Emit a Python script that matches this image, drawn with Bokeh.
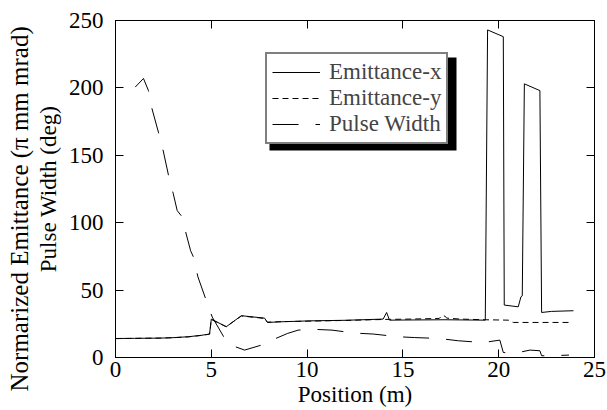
import math
from bokeh.plotting import figure
from bokeh.models import (LinearAxis, FixedTicker, Legend, LegendItem,
                          BoxAnnotation, Range1d, Title)
from bokeh.embed import file_html
from bokeh.resources import INLINE

# ---- data ----
position_ex = [0, 1, 2.4, 3.0, 3.8, 4.5, 4.91, 5.0, 5.78, 6.57, 7.78, 7.93, 8.66,
               10.2, 12, 13.97, 14.15, 14.3, 15, 17.2, 19.3, 19.42, 20.24, 20.29,
               21.02, 21.16, 21.23, 21.34, 22.15, 22.24, 22.76, 23.9]
emittance_x = [14.1, 14.2, 14.4, 14.7, 15.4, 16.5, 17.4, 28.5, 22.8, 31, 29.2, 26, 26.5,
               27.2, 27.6, 28.5, 33.4, 27.7, 27.8, 28, 27.7, 243, 238, 38.9,
               37.6, 45, 45.8, 203, 198, 33.4, 34.2, 34.7]

position_ey = [0, 1, 2.4, 3.0, 3.8, 4.5, 4.91, 5.0, 5.78, 6.57, 7.78, 7.93, 8.66,
               10.2, 12, 13.97, 14.3, 15, 16, 16.9, 17.0, 17.1, 17.2, 17.3, 18,
               19.3, 20.5, 20.76, 22, 23.8]
emittance_y = [14.0, 14.2, 14.4, 14.7, 15.3, 16.4, 17.3, 28.2, 22.9, 30.8, 29.0, 26.2, 26.6,
               27.0, 27.5, 28.2, 28.3, 28.4, 28.7, 29.0, 30.5, 31.3, 30.5, 29.2, 28.5,
               28.0, 27.7, 26.0, 26.0, 26.0]

position_pw = [1.03, 1.46, 1.72, 1.9, 2.25, 2.48, 2.77, 3.01, 3.22, 3.47, 3.69, 3.92,
               4.08, 4.3, 4.74, 5.05, 5.87, 6.74, 7.78, 8.0, 8.97, 9.53, 10.2, 11.3,
               12.5, 13.45, 14.75, 15.6, 16.9, 17.9, 19.2, 20.06, 20.24, 20.8, 21.63,
               22.15, 22.24, 22.76, 23.67]
pulse_width = [200.6, 207, 198, 184.8, 166.6, 154, 134.9, 121.8, 109, 104.5, 91.6, 79.2,
               74.2, 59.9, 42.1, 30, 9.9, 5.5, 9.9, 11.9, 17.8, 20.3, 21, 20.3,
               18.1, 17.4, 15.4, 14.8, 14.1, 12.4, 11.1, 12.9, 3.7, 3, 5.5,
               5, 1.3, 1.3, 1.8]

x_ticks = [0, 5, 10, 15, 20, 25]
y_ticks = [0, 50, 100, 150, 200, 250]
legend_labels = ["Emittance-x", "Emittance-y", "Pulse Width"]
x_title = "Position (m)"
y_title_1 = "Normarized Emittance (\u03c0 mm mrad)"
y_title_2 = "Pulse Width (deg)"

FONT = "Liberation Serif"
FS = "23px"

p = figure(width=607, height=410, output_backend="svg", toolbar_location=None,
           x_range=Range1d(0, 25), y_range=Range1d(0, 250),
           min_border_left=115, min_border_right=13, min_border_top=20,
           min_border_bottom=53)
p.xgrid.visible = False
p.ygrid.visible = False
p.outline_line_color = "black"
p.outline_line_width = 1
p.background_fill_color = "white"
p.border_fill_color = "white"


def style_axis(ax, ticks, show_labels):
    ax.ticker = FixedTicker(ticks=ticks)
    ax.major_tick_in = 8
    ax.major_tick_out = 0
    ax.minor_tick_line_color = None
    ax.axis_line_color = "black"
    ax.major_tick_line_color = "black"
    ax.major_label_text_font = FONT
    if show_labels:
        ax.major_label_text_font_size = FS
        ax.major_label_text_color = "black"
    else:
        ax.major_label_text_font_size = "0px"
        ax.major_label_text_color = None
        ax.major_label_standoff = 0


xa = p.xaxis[0]
ya = p.yaxis[0]
style_axis(xa, x_ticks, True)
style_axis(ya, y_ticks, True)
xa.major_label_standoff = 4
ya.major_label_standoff = 12

xa.axis_label = x_title
xa.axis_label_standoff = 2
xa.axis_label_text_font_size = FS
ya.axis_label = y_title_2
ya.axis_label_standoff = 5
ya.axis_label_text_font_size = FS
for ax in (xa, ya):
    ax.axis_label_text_font = FONT
    ax.axis_label_text_font_style = "normal"
    ax.axis_label_text_color = "black"

# outer line of the y-axis title
p.add_layout(Title(text=y_title_1, align="left", offset=-34, standoff=0,
                   text_font=FONT, text_font_size="25px",
                   text_font_style="normal", text_color="black"), "left")

top_ax = LinearAxis()
style_axis(top_ax, x_ticks, False)
p.add_layout(top_ax, "above")
right_ax = LinearAxis()
style_axis(right_ax, y_ticks, False)
p.add_layout(right_ax, "right")

r1 = p.line(position_ex, emittance_x, line_color="black", line_width=1)
r2 = p.line(position_ey, emittance_y, line_color="black", line_width=1, line_dash="6 4")
r3 = p.line(position_pw, pulse_width, line_color="black", line_width=1, line_dash="26 17")

# legend drop shadow (screen units relative to the frame)
shadow = BoxAnnotation(left=154, right=341, top=300, bottom=207,
                       left_units="screen", right_units="screen",
                       top_units="screen", bottom_units="screen",
                       fill_color="black", fill_alpha=1, line_color=None)
p.add_layout(shadow)

legend = Legend(items=[LegendItem(label=legend_labels[0], renderers=[r1]),
                       LegendItem(label=legend_labels[1], renderers=[r2]),
                       LegendItem(label=legend_labels[2], renderers=[r3])],
                location=(150, 213),
                label_text_font=FONT, label_text_font_size=FS,
                glyph_width=48, glyph_height=24, label_height=24,
                label_standoff=9, padding=5, spacing=0, margin=0,
                border_line_color="black", border_line_width=2,
                background_fill_color="white", background_fill_alpha=1)
p.add_layout(legend)

open("out.html", "w").write(file_html(p, INLINE))
